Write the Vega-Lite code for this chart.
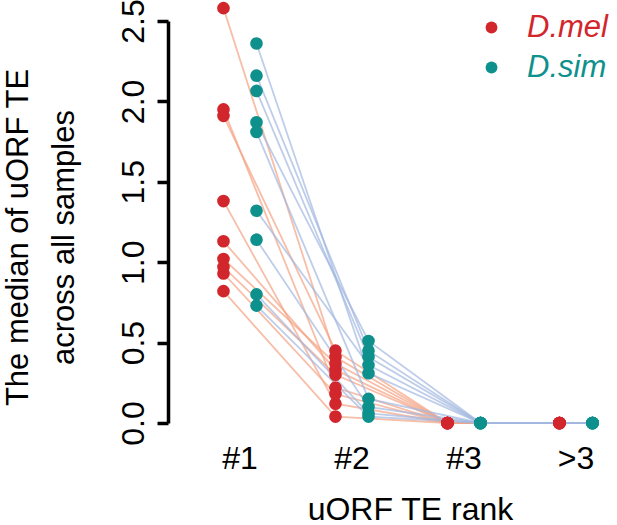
{
  "$schema": "https://vega.github.io/schema/vega-lite/v6.json",
  "autosize": "none",
  "width": 449,
  "height": 402,
  "padding": {"left": 168, "top": 21, "right": 0, "bottom": 102},
  "config": {
    "font": "Liberation Sans",
    "view": {"stroke": null}
  },
  "data": {
    "values": [
      {"gene": "m1", "species": "D.mel", "rank": "#1", "te": 2.58},
      {"gene": "m1", "species": "D.mel", "rank": "#2", "te": 0.41},
      {"gene": "m1", "species": "D.mel", "rank": "#3", "te": 0},
      {"gene": "m1", "species": "D.mel", "rank": ">3", "te": 0},
      {"gene": "m2", "species": "D.mel", "rank": "#1", "te": 1.95},
      {"gene": "m2", "species": "D.mel", "rank": "#2", "te": 0.22},
      {"gene": "m2", "species": "D.mel", "rank": "#3", "te": 0},
      {"gene": "m2", "species": "D.mel", "rank": ">3", "te": 0},
      {"gene": "m3", "species": "D.mel", "rank": "#1", "te": 1.91},
      {"gene": "m3", "species": "D.mel", "rank": "#2", "te": 0.45},
      {"gene": "m3", "species": "D.mel", "rank": "#3", "te": 0},
      {"gene": "m3", "species": "D.mel", "rank": ">3", "te": 0},
      {"gene": "m4", "species": "D.mel", "rank": "#1", "te": 1.38},
      {"gene": "m4", "species": "D.mel", "rank": "#2", "te": 0.12},
      {"gene": "m4", "species": "D.mel", "rank": "#3", "te": 0},
      {"gene": "m4", "species": "D.mel", "rank": ">3", "te": 0},
      {"gene": "m5", "species": "D.mel", "rank": "#1", "te": 1.13},
      {"gene": "m5", "species": "D.mel", "rank": "#2", "te": 0.33},
      {"gene": "m5", "species": "D.mel", "rank": "#3", "te": 0},
      {"gene": "m5", "species": "D.mel", "rank": ">3", "te": 0},
      {"gene": "m6", "species": "D.mel", "rank": "#1", "te": 1.02},
      {"gene": "m6", "species": "D.mel", "rank": "#2", "te": 0.37},
      {"gene": "m6", "species": "D.mel", "rank": "#3", "te": 0},
      {"gene": "m6", "species": "D.mel", "rank": ">3", "te": 0},
      {"gene": "m7", "species": "D.mel", "rank": "#1", "te": 0.97},
      {"gene": "m7", "species": "D.mel", "rank": "#2", "te": 0.30},
      {"gene": "m7", "species": "D.mel", "rank": "#3", "te": 0},
      {"gene": "m7", "species": "D.mel", "rank": ">3", "te": 0},
      {"gene": "m8", "species": "D.mel", "rank": "#1", "te": 0.93},
      {"gene": "m8", "species": "D.mel", "rank": "#2", "te": 0.18},
      {"gene": "m8", "species": "D.mel", "rank": "#3", "te": 0},
      {"gene": "m8", "species": "D.mel", "rank": ">3", "te": 0},
      {"gene": "m9", "species": "D.mel", "rank": "#1", "te": 0.82},
      {"gene": "m9", "species": "D.mel", "rank": "#2", "te": 0.04},
      {"gene": "m9", "species": "D.mel", "rank": "#3", "te": 0},
      {"gene": "m9", "species": "D.mel", "rank": ">3", "te": 0},
      {"gene": "s1", "species": "D.sim", "rank": "#1", "te": 2.36},
      {"gene": "s1", "species": "D.sim", "rank": "#2", "te": 0.31},
      {"gene": "s1", "species": "D.sim", "rank": "#3", "te": 0},
      {"gene": "s1", "species": "D.sim", "rank": ">3", "te": 0},
      {"gene": "s2", "species": "D.sim", "rank": "#1", "te": 2.16},
      {"gene": "s2", "species": "D.sim", "rank": "#2", "te": 0.45},
      {"gene": "s2", "species": "D.sim", "rank": "#3", "te": 0},
      {"gene": "s2", "species": "D.sim", "rank": ">3", "te": 0},
      {"gene": "s3", "species": "D.sim", "rank": "#1", "te": 2.065},
      {"gene": "s3", "species": "D.sim", "rank": "#2", "te": 0.41},
      {"gene": "s3", "species": "D.sim", "rank": "#3", "te": 0},
      {"gene": "s3", "species": "D.sim", "rank": ">3", "te": 0},
      {"gene": "s4", "species": "D.sim", "rank": "#1", "te": 1.87},
      {"gene": "s4", "species": "D.sim", "rank": "#2", "te": 0.51},
      {"gene": "s4", "species": "D.sim", "rank": "#3", "te": 0},
      {"gene": "s4", "species": "D.sim", "rank": ">3", "te": 0},
      {"gene": "s5", "species": "D.sim", "rank": "#1", "te": 1.81},
      {"gene": "s5", "species": "D.sim", "rank": "#2", "te": 0.15},
      {"gene": "s5", "species": "D.sim", "rank": "#3", "te": 0},
      {"gene": "s5", "species": "D.sim", "rank": ">3", "te": 0},
      {"gene": "s6", "species": "D.sim", "rank": "#1", "te": 1.32},
      {"gene": "s6", "species": "D.sim", "rank": "#2", "te": 0.36},
      {"gene": "s6", "species": "D.sim", "rank": "#3", "te": 0},
      {"gene": "s6", "species": "D.sim", "rank": ">3", "te": 0},
      {"gene": "s7", "species": "D.sim", "rank": "#1", "te": 1.14},
      {"gene": "s7", "species": "D.sim", "rank": "#2", "te": 0.10},
      {"gene": "s7", "species": "D.sim", "rank": "#3", "te": 0},
      {"gene": "s7", "species": "D.sim", "rank": ">3", "te": 0},
      {"gene": "s8", "species": "D.sim", "rank": "#1", "te": 0.80},
      {"gene": "s8", "species": "D.sim", "rank": "#2", "te": 0.06},
      {"gene": "s8", "species": "D.sim", "rank": "#3", "te": 0},
      {"gene": "s8", "species": "D.sim", "rank": ">3", "te": 0},
      {"gene": "s9", "species": "D.sim", "rank": "#1", "te": 0.73},
      {"gene": "s9", "species": "D.sim", "rank": "#2", "te": 0.04},
      {"gene": "s9", "species": "D.sim", "rank": "#3", "te": 0},
      {"gene": "s9", "species": "D.sim", "rank": ">3", "te": 0}
    ]
  },
  "encoding": {
    "x": {
      "field": "rank",
      "type": "ordinal",
      "sort": ["#1", "#2", "#3", ">3"],
      "scale": {"paddingInner": 0.375, "paddingOuter": 0.192, "align": 0.86},
      "axis": {
        "domain": false,
        "ticks": false,
        "labelAngle": 0,
        "labelFontSize": 32,
        "labelColor": "black",
        "labelPadding": 20,
        "title": "uORF TE rank",
        "titleFontSize": 32,
        "titleFontWeight": "normal",
        "titleColor": "black",
        "titleAlign": "center",
        "titleBaseline": "alphabetic",
        "titleX": 242,
        "titleY": 96
      }
    },
    "xOffset": {
      "field": "species",
      "type": "nominal",
      "scale": {"type": "point", "padding": 0.56}
    },
    "y": {
      "field": "te",
      "type": "quantitative",
      "scale": {"domain": [0, 2.5], "nice": false, "zero": true},
      "axis": {
        "values": [0, 0.5, 1, 1.5, 2, 2.5],
        "format": ".1f",
        "grid": false,
        "domainColor": "black",
        "domainWidth": 3.5,
        "tickColor": "black",
        "tickWidth": 3.5,
        "tickSize": 11,
        "labelAngle": -90,
        "labelAlign": "center",
        "labelBaseline": "alphabetic",
        "labelFontSize": 32,
        "labelColor": "black",
        "labelPadding": 14,
        "title": ["The median of uORF TE", "across all samples"],
        "titleFontSize": 31,
        "titleFontWeight": "normal",
        "titleColor": "black",
        "titleAngle": -90,
        "titleAlign": "center",
        "titleBaseline": "alphabetic",
        "titleLineHeight": 46,
        "titleX": -141,
        "titleY": 216
      }
    }
  },
  "layer": [
    {
      "mark": {"type": "line", "strokeWidth": 1.8, "opacity": 0.7},
      "encoding": {
        "detail": {"field": "gene", "type": "nominal"},
        "color": {
          "condition": {"test": "datum.species === 'D.mel'", "value": "#f4a283"},
          "value": "#a3b8e0"
        }
      }
    },
    {
      "mark": {"type": "circle", "size": 160, "opacity": 1},
      "encoding": {
        "color": {
          "field": "species",
          "type": "nominal",
          "scale": {"domain": ["D.mel", "D.sim"], "range": ["#d2262d", "#0e918c"]},
          "legend": {
            "title": null,
            "orient": "none",
            "legendX": 308,
            "legendY": -9,
            "symbolType": "circle",
            "symbolSize": 140,
            "symbolOpacity": 1,
            "labelFontSize": 31,
            "labelFontStyle": "italic",
            "labelOffset": 20,
            "rowPadding": 8,
            "labelLimit": 200,
            "encode": {
              "labels": {"update": {"fill": {"scale": "color", "field": "value"}}}
            }
          }
        }
      }
    }
  ]
}
